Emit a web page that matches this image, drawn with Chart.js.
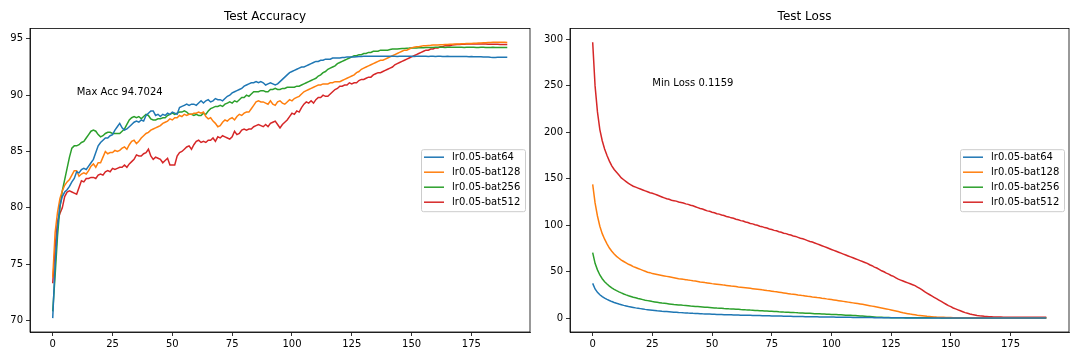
<!DOCTYPE html>
<html>
<head>
<meta charset="utf-8">
<script src="https://cdn.jsdelivr.net/npm/chart.js@4.4.1/dist/chart.umd.min.js"></script>
<style>
  html, body { margin: 0; padding: 0; background: #ffffff; }
  #wrap { position: relative; width: 1080px; height: 360px; background: #ffffff; }
  canvas { position: absolute; top: 0; }
  #c1 { left: 0; }
  #c2 { left: 540px; }
</style>
</head>
<body>
<div id="wrap">
  <canvas id="c1" width="540" height="360"></canvas>
  <canvas id="c2" width="540" height="360"></canvas>
</div>
<script>
// ---------------- DATA ----------------
const epochs = Array.from({ length: 191 }, (_, i) => i);
const seriesNames = ['lr0.05-bat64', 'lr0.05-bat128', 'lr0.05-bat256', 'lr0.05-bat512'];
const seriesColors = ['#1f77b4', '#ff7f0e', '#2ca02c', '#d62728'];
const xTicks = [0, 25, 50, 75, 100, 125, 150, 175];
const accTicks = [70, 75, 80, 85, 90, 95];
const lossTicks = [0, 50, 100, 150, 200, 250, 300];
const titles = ['Test Accuracy', 'Test Loss'];
const accNote = { text: 'Max Acc 94.7024', x: 10, y: 90 };
const lossNote = { text: 'Min Loss 0.1159', x: 25, y: 250 };

const accBat64 = [
  70.2,75.0,78.3,80.2,81.0,81.4,81.6,81.9,82.3,82.6,
  83.2,83.1,83.4,83.5,83.4,83.7,84.0,84.3,84.9,85.5,
  85.8,86.0,86.2,86.2,86.4,86.5,86.9,87.2,87.5,87.1,
  86.9,87.0,87.2,87.4,87.6,87.7,87.6,87.8,87.7,88.2,
  88.4,88.6,88.6,88.2,88.3,88.1,88.3,88.2,88.4,88.3,
  88.5,88.4,88.3,88.9,89.0,89.1,89.2,89.1,89.2,89.2,
  89.1,89.3,89.5,89.3,89.5,89.6,89.4,89.5,89.7,89.6,
  89.6,89.5,89.7,89.9,90.0,90.2,90.3,90.4,90.5,90.6,
  90.8,90.9,91.0,91.1,91.1,91.2,91.1,91.2,91.1,90.9,
  91.0,91.1,91.0,90.9,91.0,91.2,91.4,91.6,91.8,92.0,
  92.1,92.2,92.3,92.4,92.5,92.5,92.6,92.7,92.8,92.9,
  93.0,93.0,93.1,93.1,93.2,93.2,93.2,93.3,93.3,93.3,
  93.3,93.35,93.35,93.4,93.4,93.4,93.4,93.42,93.43,93.44,
  93.45,93.45,93.45,93.46,93.45,93.46,93.45,93.45,93.46,93.45,
  93.45,93.46,93.45,93.45,93.44,93.45,93.46,93.45,93.45,93.45,
  93.45,93.44,93.45,93.45,93.46,93.45,93.45,93.44,93.45,93.45,
  93.44,93.45,93.45,93.44,93.44,93.45,93.44,93.43,93.44,93.44,
  93.43,93.44,93.43,93.43,93.42,93.43,93.42,93.42,93.41,93.42,
  93.4,93.39,93.38,93.36,93.35,93.35,93.36,93.37,93.37,93.36,
  93.36
];
const accBat128 = [
  73.8,77.8,79.6,80.8,81.5,82.0,82.3,82.5,82.9,83.3,
  83.3,82.8,83.0,83.1,83.0,83.3,83.7,83.9,83.6,84.0,
  84.0,84.5,85.0,84.8,84.9,84.9,85.1,85.0,85.1,85.3,
  85.4,85.2,85.6,85.9,86.0,85.7,85.9,86.2,86.4,86.6,
  86.7,86.9,87.0,87.1,87.2,87.3,87.5,87.6,87.7,87.9,
  87.8,88.0,88.0,88.2,88.1,88.3,88.2,88.3,88.3,88.4,
  88.4,88.5,88.4,88.5,88.1,87.9,88.0,87.7,87.5,87.2,
  87.3,87.6,87.8,87.7,87.9,88.0,87.8,88.1,88.3,88.2,
  88.4,88.5,88.5,88.8,89.1,89.4,89.5,89.4,89.4,89.3,
  89.2,89.5,89.2,89.1,89.4,89.5,89.3,89.2,89.4,89.6,
  89.5,89.7,89.8,89.9,90.1,90.3,90.4,90.5,90.6,90.7,
  90.8,90.9,90.9,91.0,91.0,91.0,91.1,91.1,91.2,91.2,
  91.2,91.3,91.4,91.5,91.6,91.7,91.8,92.0,92.1,92.3,
  92.4,92.5,92.6,92.7,92.8,92.9,93.0,93.1,93.1,93.2,
  93.3,93.4,93.5,93.6,93.7,93.8,93.9,94.0,94.0,94.1,
  94.2,94.25,94.3,94.3,94.35,94.4,94.4,94.42,94.43,94.45,
  94.45,94.46,94.47,94.48,94.5,94.5,94.52,94.53,94.54,94.55,
  94.55,94.56,94.57,94.58,94.59,94.6,94.61,94.62,94.63,94.64,
  94.65,94.66,94.67,94.68,94.69,94.7,94.7,94.7,94.7,94.7,
  94.68
];
const accBat256 = [
  70.8,74.0,77.5,80.0,81.5,82.5,83.5,84.5,85.3,85.5,
  85.5,85.6,85.8,85.9,86.2,86.5,86.8,86.9,86.8,86.5,
  86.3,86.4,86.6,86.7,86.7,86.6,86.6,86.6,86.6,86.8,
  87.0,87.4,87.8,88.0,88.1,88.0,88.1,87.9,88.1,88.3,
  88.2,87.9,87.8,87.8,87.9,87.9,88.0,88.0,88.2,88.3,
  88.4,88.3,88.4,88.5,88.5,88.6,88.5,88.3,88.3,88.2,
  88.3,88.2,88.2,88.4,88.3,88.6,88.8,88.9,89.0,89.0,
  89.1,89.0,89.2,89.3,89.4,89.3,89.5,89.4,89.6,89.8,
  89.8,90.0,89.9,90.1,90.3,90.3,90.3,90.4,90.4,90.3,
  90.3,90.5,90.5,90.6,90.5,90.5,90.6,90.6,90.7,90.7,
  90.7,90.7,90.8,90.8,90.9,91.0,91.1,91.2,91.3,91.4,
  91.5,91.7,91.8,92.0,92.1,92.3,92.4,92.5,92.6,92.8,
  92.9,93.0,93.1,93.2,93.3,93.4,93.5,93.5,93.6,93.6,
  93.7,93.7,93.8,93.8,93.9,93.9,93.9,94.0,94.0,94.0,
  94.0,94.05,94.1,94.1,94.1,94.12,94.14,94.15,94.17,94.18,
  94.2,94.2,94.2,94.21,94.22,94.22,94.23,94.23,94.24,94.24,
  94.25,94.25,94.25,94.25,94.24,94.25,94.25,94.25,94.26,94.25,
  94.25,94.25,94.24,94.25,94.25,94.25,94.25,94.24,94.24,94.25,
  94.25,94.24,94.24,94.24,94.25,94.24,94.24,94.24,94.24,94.24,
  94.24
];
const accBat512 = [
  73.3,76.5,78.8,79.5,80.0,81.0,81.4,81.5,81.4,81.3,
  81.2,81.8,82.4,82.3,82.6,82.6,82.7,82.7,82.6,82.9,
  83.0,82.9,83.2,83.3,83.2,83.5,83.4,83.5,83.6,83.6,
  83.8,83.6,83.9,84.1,84.3,84.7,84.6,84.6,84.8,84.9,
  85.2,84.6,84.3,84.5,84.4,84.3,84.0,84.2,84.4,83.8,
  83.8,83.8,84.6,84.9,85.0,85.2,85.4,85.5,85.2,85.6,
  85.9,86.0,85.8,85.9,85.8,86.0,86.0,86.2,85.9,86.3,
  86.2,86.4,86.3,86.2,86.1,86.3,86.8,86.5,86.6,86.9,
  87.0,86.9,87.0,87.0,87.2,87.3,87.4,87.3,87.2,87.4,
  87.2,87.5,87.6,87.7,87.4,87.1,87.4,87.6,87.8,88.1,
  88.4,88.3,88.6,88.5,88.9,89.2,89.4,89.3,89.5,89.3,
  89.6,89.8,89.8,90.0,89.9,89.9,90.1,90.3,90.5,90.6,
  90.8,90.8,90.9,90.9,91.1,91.0,91.1,91.1,91.3,91.4,
  91.4,91.5,91.6,91.6,91.8,91.9,92.0,92.0,92.1,92.2,
  92.3,92.4,92.5,92.7,92.8,92.9,93.0,93.1,93.2,93.3,
  93.4,93.5,93.6,93.7,93.8,93.9,94.0,94.0,94.1,94.1,
  94.2,94.2,94.3,94.3,94.4,94.4,94.4,94.45,94.47,94.5,
  94.5,94.52,94.53,94.54,94.55,94.55,94.56,94.55,94.55,94.55,
  94.54,94.54,94.53,94.53,94.52,94.52,94.52,94.51,94.51,94.5,
  94.5
];

const lossBat64 = [
  37.5,31.5,27.8,25.2,23.2,21.6,20.2,19,17.9,16.9,
  16,15.2,14.5,13.8,13.2,12.6,12.1,11.6,11.1,10.7,
  10.3,9.9,9.5,9.2,8.9,8.6,8.3,8,7.8,7.5,
  7.3,7.1,6.9,6.7,6.5,6.3,6.1,6,5.8,5.7,
  5.5,5.4,5.2,5.1,5,4.9,4.7,4.6,4.5,4.4,
  4.3,4.2,4.1,4,3.9,3.8,3.75,3.7,3.6,3.5,
  3.45,3.4,3.3,3.25,3.2,3.1,3.05,3,2.9,2.85,
  2.8,2.74,2.68,2.62,2.56,2.5,2.44,2.38,2.32,2.26,
  2.2,2.14,2.08,2.02,1.96,1.9,1.84,1.78,1.72,1.66,
  1.6,1.56,1.52,1.48,1.44,1.4,1.36,1.32,1.28,1.24,
  1.2,1.16,1.12,1.08,1.04,1.0,0.97,0.94,0.91,0.88,
  0.85,0.82,0.79,0.76,0.73,0.7,0.67,0.64,0.61,0.58,
  0.55,0.53,0.51,0.49,0.47,0.45,0.43,0.41,0.39,0.37,
  0.35,0.34,0.32,0.31,0.3,0.28,0.27,0.26,0.25,0.24,
  0.22,0.21,0.2,0.2,0.19,0.18,0.17,0.17,0.16,0.16,
  0.15,0.15,0.15,0.14,0.14,0.14,0.14,0.13,0.13,0.13,
  0.13,0.13,0.13,0.13,0.12,0.12,0.12,0.12,0.12,0.12,
  0.12,0.12,0.12,0.12,0.12,0.12,0.12,0.12,0.12,0.12,
  0.12,0.12,0.1159,0.12,0.12,0.12,0.12,0.12,0.12,0.12,
  0.12
];
const lossBat128 = [
  144,124,110,99,91,85,80,75.5,72,69,
  66.5,64.5,62.5,61,59.5,58,57,55.5,54.5,53.5,
  52.5,51.5,50.5,49.5,49,48,47.5,47,46.5,46,
  45.5,45,44.5,44,43.5,43,42.5,42.2,41.8,41.5,
  41,40.7,40.3,40,39.5,39,38.7,38.3,38,37.6,
  37.2,36.9,36.6,36.3,36,35.6,35.3,35,34.6,34.3,
  34,33.6,33.3,33,32.7,32.4,32.1,31.8,31.5,31.2,
  30.9,30.5,30.2,29.8,29.5,29.1,28.7,28.4,28,27.6,
  27.2,26.8,26.4,26,25.7,25.4,25.0,24.7,24.3,24.0,
  23.6,23.3,22.9,22.6,22.2,21.9,21.5,21.2,20.8,20.5,
  20.1,19.7,19.3,18.9,18.5,18.1,17.7,17.3,16.9,16.5,
  16.1,15.7,15.3,14.9,14.5,14.0,13.5,13.0,12.5,12.0,
  11.5,11.0,10.5,10.0,9.5,8.9,8.3,7.7,7.1,6.5,
  5.9,5.4,4.9,4.4,4.0,3.6,3.2,2.9,2.6,2.3,
  2.0,1.8,1.6,1.4,1.2,1.1,1.0,0.9,0.8,0.7,
  0.65,0.6,0.58,0.55,0.52,0.5,0.48,0.46,0.45,0.44,
  0.43,0.42,0.41,0.4,0.39,0.38,0.38,0.37,0.36,0.36,
  0.35,0.35,0.34,0.34,0.33,0.33,0.33,0.32,0.32,0.32,
  0.31,0.31,0.31,0.3,0.3,0.3,0.3,0.3,0.29,0.29,
  0.29
];
const lossBat256 = [
  70.5,59,52,46.5,42.5,39.3,36.8,34.6,32.7,31.1,
  29.7,28.4,27.2,26.1,25.1,24.2,23.4,22.6,21.9,21.2,
  20.6,20,19.4,18.9,18.4,17.9,17.5,17.1,16.7,16.3,
  16,15.7,15.4,15.1,14.8,14.6,14.3,14.1,13.8,13.6,
  13.4,13.1,12.9,12.7,12.5,12.3,12.1,11.9,11.7,11.5,
  11.3,11.1,10.9,10.8,10.6,10.4,10.3,10.1,10,9.8,
  9.6,9.5,9.3,9.2,9,8.9,8.7,8.6,8.4,8.3,
  8.1,8,7.8,7.7,7.5,7.4,7.2,7.1,6.9,6.8,
  6.6,6.5,6.4,6.2,6.1,6,5.8,5.7,5.6,5.4,
  5.3,5.2,5.1,4.9,4.8,4.7,4.6,4.5,4.3,4.2,
  4.1,4,3.9,3.7,3.6,3.5,3.3,3.2,3.1,2.9,
  2.8,2.6,2.4,2.3,2.1,1.9,1.7,1.5,1.3,1.1,
  1.0,0.9,0.8,0.7,0.65,0.6,0.56,0.53,0.5,0.48,
  0.46,0.44,0.43,0.42,0.41,0.4,0.39,0.38,0.38,0.37,
  0.37,0.36,0.36,0.35,0.35,0.35,0.34,0.34,0.34,0.33,
  0.33,0.33,0.33,0.32,0.32,0.32,0.32,0.31,0.31,0.31,
  0.31,0.31,0.3,0.3,0.3,0.3,0.3,0.3,0.29,0.29,
  0.29,0.29,0.29,0.29,0.29,0.28,0.28,0.28,0.28,0.28,
  0.28,0.28,0.28,0.28,0.27,0.27,0.27,0.27,0.27,0.27,
  0.27
];
const lossBat512 = [
  297,250,222,203,191,182,175,169,164,160,
  157,154,151,149,147,145,143.5,142,141,140,
  139,138,137,136,135,134.5,133.5,132.5,131.5,130.5,
  129.5,128.5,128,127,126.5,126,125,124.5,124,123,
  122.5,121.5,121,120,119,118,117.5,116.5,115.5,115,
  114,113.5,112.5,112,111,110.5,109.5,109,108,107.5,
  106.5,106,105,104.5,103.5,103,102,101.5,100.5,100,
  99,98.5,97.5,97,96,95.5,94.5,94,93,92.5,
  91.5,91,90,89.5,88.5,88,87,86,85.5,84.5,
  83.5,82.5,82,81,80,79,78,77,76,75,
  74,73,72,71,70,69,68,67,66,65,
  64,63,62,61,60,59,57.5,56.5,55,54,
  52.5,51,50,48.5,47.5,46,45,43.5,42,41,
  40,39,38,37,36,35,33.5,32,30.5,28.5,
  27,25.5,24,22.5,21,19.5,18,16.5,15,13.5,
  12.5,11,10,9,8,7,6,5.3,4.6,4,
  3.5,3,2.6,2.3,2,1.8,1.6,1.5,1.4,1.3,
  1.2,1.2,1.1,1.1,1.1,1.05,1.05,1.0,1.0,1.0,
  1.0,1.0,1.0,0.98,0.98,0.97,0.97,0.96,0.96,0.95,
  0.95
];

// ---------------- RENDERING ----------------
const FONT = 'DejaVu Sans';

const framePlugin = {
  id: 'frame',
  afterDatasetsDraw(chart, args, opts) {
    const { ctx, chartArea: a, scales } = chart;
    ctx.save();
    // spines
    ctx.strokeStyle = '#000';
    ctx.lineWidth = 0.8;
    ctx.strokeRect(a.left, a.top, a.right - a.left, a.bottom - a.top);
    // annotation text
    const note = opts.note;
    ctx.fillStyle = '#000';
    ctx.font = '10px "' + FONT + '"';
    ctx.textAlign = 'left';
    ctx.textBaseline = 'alphabetic';
    ctx.fillText(note.text, scales.x.getPixelForValue(note.x), scales.y.getPixelForValue(note.y));
    // legend (matplotlib style, center right)
    const rowGap = 15;
    const boxW = 104, boxH = 62;
    const cy = (a.top + a.bottom) / 2;
    const bx = a.right - 5 - boxW;
    const by = cy - boxH / 2;
    ctx.beginPath();
    if (ctx.roundRect) ctx.roundRect(bx + 0.5, by + 0.5, boxW, boxH, 2);
    else ctx.rect(bx + 0.5, by + 0.5, boxW, boxH);
    ctx.fillStyle = 'rgba(255,255,255,0.8)';
    ctx.fill();
    ctx.strokeStyle = '#cccccc';
    ctx.lineWidth = 1;
    ctx.stroke();
    ctx.textBaseline = 'middle';
    chart.data.datasets.forEach((ds, i) => {
      const y = by + 8 + i * rowGap;
      ctx.strokeStyle = ds.borderColor;
      ctx.lineWidth = 1.5;
      ctx.beginPath();
      ctx.moveTo(bx + 3, y);
      ctx.lineTo(bx + 23, y);
      ctx.stroke();
      ctx.fillStyle = '#000';
      ctx.fillText(ds.label, bx + 31, y + 0.5);
    });
    ctx.restore();
  }
};

function makeChart(canvasId, title, series, yMin, yMax, yTicks, note, padRight) {
  const datasets = series.map((vals, i) => ({
    label: seriesNames[i],
    data: vals,
    borderColor: seriesColors[i],
    backgroundColor: seriesColors[i],
    borderWidth: 1.5,
    pointRadius: 0,
    tension: 0,
    fill: false
  }));
  const tickFont = { family: FONT, size: 10 };
  return new Chart(document.getElementById(canvasId), {
    type: 'line',
    data: { labels: epochs, datasets },
    options: {
      responsive: false,
      animation: false,
      devicePixelRatio: 1,
      layout: { padding: { left: 0, right: padRight, top: 0, bottom: 0 } },
      plugins: {
        legend: { display: false },
        tooltip: { enabled: false },
        title: {
          display: true, text: title, color: '#000',
          font: { family: FONT, size: 12, weight: 'normal' },
          padding: { top: 10, bottom: 4 }
        },
        frame: { note }
      },
      scales: {
        x: {
          type: 'linear', min: -9.5, max: 199.5,
          afterBuildTicks: (s) => { s.ticks = xTicks.map(v => ({ value: v })); },
          afterFit: (s) => { s.height = 28; },
          ticks: { color: '#000', font: tickFont, padding: 2, maxRotation: 0, autoSkip: false,
                   callback: (v) => String(v) },
          grid: { display: true, drawOnChartArea: false, drawTicks: true, tickLength: 4, color: '#000', lineWidth: 0.8 },
          border: { display: true, color: '#000', width: 0.8 }
        },
        y: {
          type: 'linear', min: yMin, max: yMax,
          afterBuildTicks: (s) => { s.ticks = yTicks.map(v => ({ value: v })); },
          afterFit: (s) => { s.width = 30; },
          ticks: { color: '#000', font: tickFont, padding: 3, autoSkip: false,
                   callback: (v) => String(v) },
          grid: { display: true, drawOnChartArea: false, drawTicks: true, tickLength: 4, color: '#000', lineWidth: 0.8 },
          border: { display: true, color: '#000', width: 0.8 }
        }
      }
    },
    plugins: [framePlugin]
  });
}

makeChart('c1', titles[0], [accBat64, accBat128, accBat256, accBat512], 68.97, 95.93, accTicks, accNote, 10);
makeChart('c2', titles[1], [lossBat64, lossBat128, lossBat256, lossBat512], -14.85, 311.85, lossTicks, lossNote, 11);
</script>
</body>
</html>
